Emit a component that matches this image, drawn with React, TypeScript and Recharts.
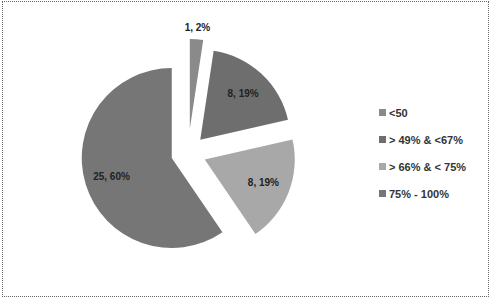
import { Cell, Legend, Pie, PieChart } from "recharts";

const categories = ["<50", "> 49% & <67%", "> 66% & < 75%", "75% - 100%"];
const counts = [1, 8, 8, 25];
const colors = ["#8a8a8a", "#6e6e6e", "#a8a8a8", "#767676"];

const data = categories.map((name, i) => ({ name, value: counts[i] }));
const total = counts.reduce((a, b) => a + b, 0);

const RADIAN = Math.PI / 180;
const CX = 188;
const CY = 153;
const R = 90;
const EXPLODE = [24, 18, 18, 17];

// each slice is pulled out along its own bisector
const offsets = (() => {
  let acc = 0;
  return counts.map((v, i) => {
    const mid = 90 - ((acc + v / 2) / total) * 360;
    acc += v;
    return {
      dx: Math.cos(mid * RADIAN) * EXPLODE[i],
      dy: -Math.sin(mid * RADIAN) * EXPLODE[i],
    };
  });
})();

const renderLabel = (k: number) => (props: any) => {
  if (props.index !== k) return null;
  const { cx, cy, midAngle, outerRadius, value, percent } = props;
  const r = percent < 0.05 ? outerRadius + 12 : outerRadius * 0.7;
  const x = cx + r * Math.cos(-midAngle * RADIAN);
  const y = cy + r * Math.sin(-midAngle * RADIAN);
  return (
    <text
      x={x}
      y={y}
      textAnchor="middle"
      dominantBaseline="central"
      fontFamily="Liberation Sans, Arial, sans-serif"
      fontSize={10}
      fontWeight="bold"
      fill="#222"
    >
      {`${value}, ${Math.round(percent * 100)}%`}
    </text>
  );
};

const renderLegend = () => (
  <div style={{ fontFamily: "Liberation Sans, Arial, sans-serif" }}>
    {categories.map((c, i) => (
      <div
        key={c}
        style={{
          display: "flex",
          alignItems: "center",
          height: 27,
          fontSize: 11,
          fontWeight: "bold",
          color: "#333",
        }}
      >
        <span
          style={{
            display: "inline-block",
            width: 7,
            height: 7,
            background: colors[i],
            marginRight: 3,
          }}
        />
        {c}
      </div>
    ))}
  </div>
);

export default function App() {
  return (
    <div
      style={{
        position: "absolute",
        left: 0,
        top: 0,
        width: 490,
        height: 301,
        background: "#fff",
      }}
    >
      <div
        style={{
          position: "absolute",
          left: 2,
          top: 1,
          width: 485,
          height: 294,
          border: "1px dotted #666",
        }}
      />
      <PieChart
        width={490}
        height={301}
        margin={{ top: 0, right: 0, bottom: 0, left: 0 }}
      >
        {counts.map((_, k) => (
          <Pie
            key={k}
            data={data}
            dataKey="value"
            nameKey="name"
            cx={CX + offsets[k].dx}
            cy={CY + offsets[k].dy}
            outerRadius={R}
            startAngle={90}
            endAngle={-270}
            stroke="none"
            labelLine={false}
            label={renderLabel(k)}
            isAnimationActive={false}
          >
            {data.map((d, i) => (
              <Cell key={d.name} fill={i === k ? colors[i] : "none"} />
            ))}
          </Pie>
        ))}
        <Legend
          content={renderLegend}
          wrapperStyle={{ left: 379, top: 99, width: 110 }}
        />
      </PieChart>
    </div>
  );
}
